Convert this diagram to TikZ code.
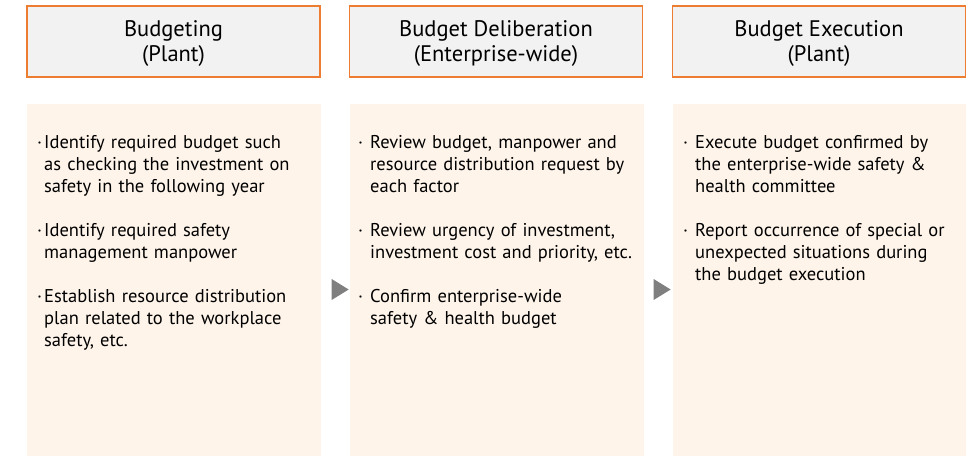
\documentclass[tikz,border=0pt]{standalone}
\usepackage{fontspec}
\setmainfont{PT Sans}
\usetikzlibrary{shapes.geometric}
\definecolor{headfill}{HTML}{F2F2F2}
\definecolor{headline}{HTML}{ED7D31}
\definecolor{bodyfill}{HTML}{FEF4EA}
\definecolor{markgray}{HTML}{7F7F7F}
\newlength\bulletgap
\newcommand\itemsetup[1]{\setlength\bulletgap{#1}\setlength\lineskip{0pt}\setlength\lineskiplimit{0pt}}
\newcommand\bulletitem[1]{\makebox[\bulletgap][l]{·}\begin{tabular}[t]{@{}l@{}}#1\end{tabular}\par}
\newcommand\headtext[1]{\raisebox{-2.5pt}[\height][\depth]{\begin{tabular}{@{}c@{}}#1\end{tabular}}}
\begin{document}
\begin{tikzpicture}[x=1pt,y=-1pt,
    headbox/.style={draw=headline,line width=1.3pt,fill=headfill,minimum width=293pt,minimum height=71pt,
      inner sep=0pt,font=\fontsize{22.5}{25}\selectfont,text=black},
    bodybox/.style={fill=bodyfill,minimum width=294pt,minimum height=352pt,inner sep=0pt},
    itemtext/.style={anchor=north west,text width=285pt,align=left,inner sep=0pt,
      font=\fontsize{18.5}{22}\selectfont,text=black},
    stepmark/.style={isosceles triangle,isosceles triangle stretches,fill=markgray,
      minimum width=21pt,minimum height=17pt,inner sep=0pt}]
\useasboundingbox (0,0) rectangle (966,456);
% column heads
\node[headbox] (plan head) at (173.5,41.5) {\headtext{Budgeting\\(Plant)}};
\node[headbox] (review head) at (496,41.5) {\headtext{Budget Deliberation\\(Enterprise-wide)}};
\node[headbox] (exec head) at (819,41.5) {\headtext{Budget Execution\\(Plant)}};
% column bodies
\node[bodybox] (plan body) at (174,280) {};
\node[bodybox] (review body) at (497,280) {};
\node[bodybox,minimum width=293pt] (exec body) at (819.5,280) {};
% step marks
\node[stepmark] (mark one) at (337.5,289.5) {};
\node[stepmark] (mark two) at (659.5,289.5) {};
% items
\node[itemtext] (plan items) at (37,133) {\itemsetup{7pt}%
  \bulletitem{Identify required budget such\\as checking the investment on\\safety in the following year}
  \vspace{22pt}
  \bulletitem{Identify required safety\\management manpower}
  \vspace{22pt}
  \bulletitem{Establish resource distribution\\plan related to the workplace\\safety, etc.}};
\node[itemtext] (review items) at (358,133) {\itemsetup{12pt}%
  \bulletitem{Review budget, manpower and\\resource distribution request by\\each factor}
  \vspace{22pt}
  \bulletitem{Review urgency of investment,\\investment cost and priority, etc.}
  \vspace{22pt}
  \bulletitem{Confirm enterprise-wide\\safety \& health budget}};
\node[itemtext] (exec items) at (683,133) {\itemsetup{12pt}%
  \bulletitem{Execute budget confirmed by\\the enterprise-wide safety \&\\health committee}
  \vspace{22pt}
  \bulletitem{Report occurrence of special or\\unexpected situations during\\the budget execution}};
\end{tikzpicture}
\end{document}
